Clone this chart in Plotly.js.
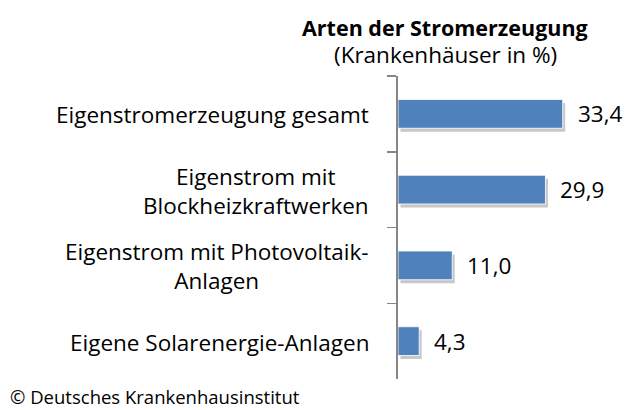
<!DOCTYPE html>
<html>
<head>
<meta charset="utf-8">
<script src="https://cdn.plot.ly/plotly-3.0.1.min.js"></script>
<style>
  html, body { margin: 0; padding: 0; background: #ffffff; }
  #chart { width: 629px; height: 410px; }
</style>
</head>
<body>
<div id="chart"></div>
<script>
// -- Data ---------------------------------------------------------------------
var categories = [
  'Eigenstromerzeugung gesamt',
  'Eigenstrom mit<br>Blockheizkraftwerken',
  'Eigenstrom mit Photovoltaik-<br>Anlagen',
  'Eigene Solarenergie-Anlagen'
];
var values = [33.4, 29.9, 11.0, 4.3];

var chartTitle = 'Arten der Stromerzeugung';
var chartSubtitle = '(Krankenhäuser in %)';
var footer = '\u00a9 Deutsches Krankenhausinstitut';

// -- Theme --------------------------------------------------------------------
var BAR_BLUE = '#4F81BD';
var AXIS_GRAY = '#868686';
var FONT = '"Open Sans", sans-serif';
var BAR_W = 0.38;

function fmt(v) { return v.toFixed(1).replace('.', ','); }

// soft drop shadow under each bar (same values, slightly shifted)
var shadow = {
  type: 'bar', orientation: 'h',
  x: values, y: categories, base: 0.5,
  width: BAR_W, offset: -BAR_W / 2 + 0.045,
  marker: { color: 'rgba(0,0,0,0.22)', line: { width: 0 } },
  hoverinfo: 'skip', showlegend: false
};

var bars = {
  type: 'bar', orientation: 'h',
  x: values, y: categories,
  width: BAR_W, offset: -BAR_W / 2,
  marker: { color: BAR_BLUE, line: { color: 'rgba(255,255,255,0.85)', width: 1 } },
  hoverinfo: 'x+y', showlegend: false
};

var annotations = [];
categories.forEach(function (c, i) {
  annotations.push({
    text: c, xref: 'paper', yref: 'y', x: 0, y: c,
    xanchor: 'right', yanchor: 'middle', xshift: -27, yshift: -1, align: 'center',
    showarrow: false, font: { family: FONT, size: 22.5, color: '#000' }
  });
  annotations.push({
    text: fmt(values[i]), xref: 'x', yref: 'y', x: values[i], y: c,
    xanchor: 'left', yanchor: 'middle', xshift: 13,
    showarrow: false, font: { family: FONT, size: 22.5, color: '#000' }
  });
});

annotations.push({
  text: '<b>' + chartTitle + '</b>', xref: 'paper', yref: 'paper',
  x: 0.217, y: 1, xanchor: 'center', yanchor: 'middle', yshift: 49,
  showarrow: false, font: { family: FONT, size: 21.5, color: '#000' }
});
annotations.push({
  text: chartSubtitle, xref: 'paper', yref: 'paper',
  x: 0.217, y: 1, xanchor: 'center', yanchor: 'middle', yshift: 22,
  showarrow: false, font: { family: FONT, size: 22.5, color: '#000' }
});
annotations.push({
  text: footer, xref: 'paper', yref: 'paper',
  x: 0, y: 0, xanchor: 'left', yanchor: 'bottom', xshift: -390, yshift: -32,
  showarrow: false, font: { family: FONT, size: 18.5, color: '#000' }
});

var layout = {
  width: 629, height: 410,
  margin: { l: 398, r: 14, t: 76, b: 31, pad: 0 },
  paper_bgcolor: '#ffffff', plot_bgcolor: '#ffffff',
  barmode: 'overlay',
  showlegend: false,
  font: { family: FONT, color: '#000' },
  xaxis: {
    range: [0, 44], visible: false, fixedrange: true
  },
  yaxis: {
    type: 'category', autorange: 'reversed',
    showline: true, linecolor: AXIS_GRAY, linewidth: 2,
    ticks: 'outside', ticklen: 9, tickwidth: 1.5, tickcolor: AXIS_GRAY,
    tickson: 'boundaries', showgrid: false, zeroline: false,
    showticklabels: false, fixedrange: true
  },
  annotations: annotations
};

Plotly.newPlot('chart', [shadow, bars], layout, { displayModeBar: false, staticPlot: true });
</script>
</body>
</html>
